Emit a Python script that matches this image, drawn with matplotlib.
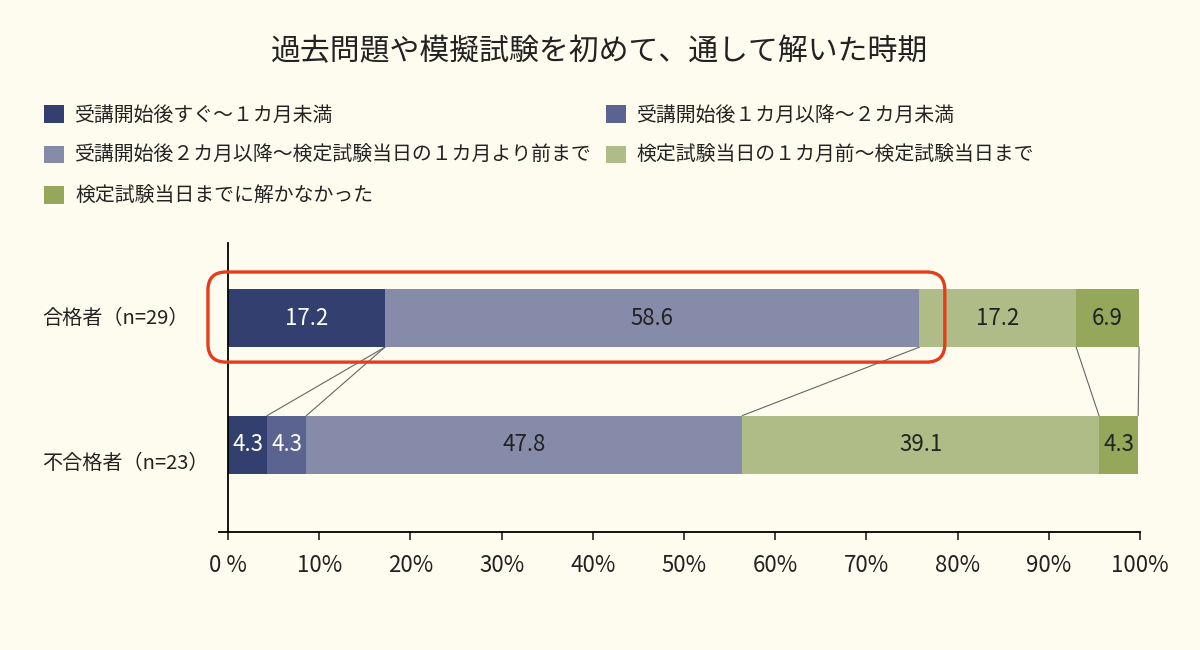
import matplotlib
matplotlib.use("Agg")
import matplotlib.pyplot as plt
import matplotlib.transforms as mtransforms
from matplotlib.patches import FancyBboxPatch, Patch
import numpy as np

plt.rcParams['font.family'] = ['Noto Sans CJK JP', 'DejaVu Sans']

TITLE = "過去問題や模擬試験を初めて、通して解いた時期"
GROUPS = ["合格者（n=29）", "不合格者（n=23）"]
SERIES = [
    "受講開始後すぐ〜１カ月未満",
    "受講開始後１カ月以降〜２カ月未満",
    "受講開始後２カ月以降〜検定試験当日の１カ月より前まで",
    "検定試験当日の１カ月前〜検定試験当日まで",
    "検定試験当日までに解かなかった",
]
PASSED = [17.2, 0.0, 58.6, 17.2, 6.9]
FAILED = [4.3, 4.3, 47.8, 39.1, 4.3]
XTICKS = [0, 10, 20, 30, 40, 50, 60, 70, 80, 90, 100]
XTICK_LABELS = ["0 %", "10%", "20%", "30%", "40%", "50%", "60%", "70%", "80%", "90%", "100%"]

COLORS = ["#333f6e", "#5b6490", "#858ba8", "#b0bc87", "#95a75b"]
TEXT_COLORS = ["white", "white", "#222222", "#222222", "#222222"]
BG = "#fefcef"

values = np.array([PASSED, FAILED])
ypos = np.array([0, 1])
bar_h = 0.46

fig = plt.figure(figsize=(12, 6.5), dpi=100, facecolor=BG)
ax = fig.add_axes([218.9 / 1200, 118 / 650, 921.1 / 1200, 289 / 650])
ax.set_facecolor(BG)

lefts = np.zeros(len(GROUPS))
for i, name in enumerate(SERIES):
    w = values[:, i]
    ax.barh(ypos, w, left=lefts, height=bar_h, color=COLORS[i], label=name, zorder=2)
    for j in range(len(GROUPS)):
        if w[j] > 0:
            ax.text(lefts[j] + w[j] / 2, ypos[j], f"{w[j]:.1f}", ha="center", va="center",
                    color=TEXT_COLORS[i], fontsize=16, zorder=3)
    lefts = lefts + w

# connector lines between cumulative boundaries
cum = np.cumsum(values, axis=1)
for k in range(cum.shape[1]):
    ax.plot([cum[0, k], cum[1, k]], [ypos[0] + bar_h / 2, ypos[1] - bar_h / 2],
            color="#666666", lw=0.8, zorder=1)

ax.set_xlim(-1, 100)
ax.set_ylim(1.69, -0.593)
ax.set_xticks(XTICKS)
ax.set_xticklabels(XTICK_LABELS, fontsize=16, color="#222222")
ax.set_yticks([])
ax.tick_params(axis="x", direction="out", length=6, width=1.2, pad=10, color="#222222")
ax.spines["left"].set_position(("data", 0))
ax.spines["left"].set_linewidth(1.3)
ax.spines["bottom"].set_linewidth(1.3)
ax.spines["right"].set_visible(False)
ax.spines["top"].set_visible(False)

# group labels, left aligned at the figure edge
trans = mtransforms.blended_transform_factory(fig.transFigure, ax.transData)
label_shift = [0.0, 0.15]
for j, g in enumerate(GROUPS):
    ax.text(0.035, ypos[j] + label_shift[j], g, transform=trans, ha="left", va="center",
            fontsize=14.5, color="#222222")

# red highlight around the passed group
hl = FancyBboxPatch((-2.2, -0.364), 80.8, 0.712,
                    boxstyle="round,pad=0,rounding_size=2.0", mutation_aspect=0.0721,
                    fill=False, ec="#e63c1c", lw=2.4, clip_on=False, zorder=4)
ax.add_patch(hl)

fig.text(0.5, 0.92, TITLE, ha="center", va="center", fontsize=21.5, color="#222222")

handles = [Patch(facecolor=c, edgecolor="none") for c in COLORS]
order = [0, 2, 4, 1, 3]
fig.legend([handles[k] for k in order], [SERIES[k] for k in order], ncol=2,
           loc="upper left", bbox_to_anchor=(0.022, 0.866), frameon=False,
           fontsize=14.3, handlelength=1.0, handleheight=1.0, handletextpad=0.55,
           labelspacing=0.97, columnspacing=0.7, labelcolor="#222222")

fig.savefig("out.png", dpi=100, facecolor=BG)
